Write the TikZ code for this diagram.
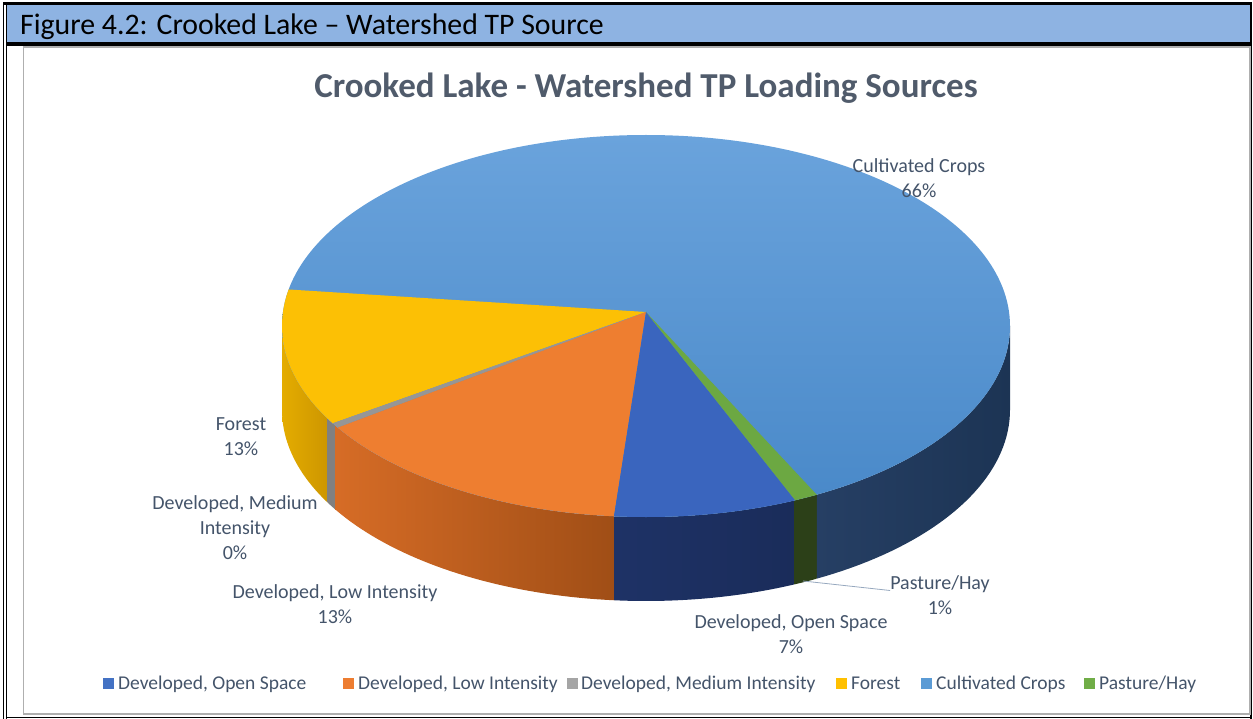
\documentclass[tikz,border=0pt]{standalone}
\usepackage{fontspec}
\setmainfont{Carlito}
\definecolor{hdrblue}{RGB}{142,179,226}
\definecolor{labcol}{RGB}{68,84,106}
\definecolor{titlecol}{RGB}{80,91,107}
\definecolor{framegray}{RGB}{175,175,175}
\definecolor{cOpen}{RGB}{68,114,196}
\definecolor{cLow}{RGB}{237,125,49}
\definecolor{cMed}{RGB}{165,165,165}
\definecolor{cFor}{RGB}{255,192,0}
\definecolor{cCult}{RGB}{91,155,213}
\definecolor{cPas}{RGB}{112,173,71}
\definecolor{tOpen}{RGB}{58,101,190}
\definecolor{tLow}{RGB}{238,126,48}
\definecolor{tFor}{RGB}{252,192,5}
\definecolor{tMed}{RGB}{150,150,150}
\definecolor{tPas}{RGB}{108,168,66}
\definecolor{tCultA}{RGB}{106,163,220}
\definecolor{tCultB}{RGB}{72,136,200}
\definecolor{sCultA}{RGB}{38,63,100}
\definecolor{sCultB}{RGB}{28,52,84}
\definecolor{sOpenA}{RGB}{30,50,102}
\definecolor{sOpenB}{RGB}{26,44,90}
\definecolor{sLowA}{RGB}{214,108,38}
\definecolor{sLowB}{RGB}{160,78,22}
\definecolor{sForA}{RGB}{228,172,0}
\definecolor{sForB}{RGB}{205,150,0}
\definecolor{sMed}{RGB}{128,128,128}
\definecolor{sPas}{RGB}{44,64,24}
\definecolor{leadcol}{RGB}{150,168,190}
\newcommand\pieside[4]{%
  \shade[left color=#3,right color=#4] plot[domain=#1:#2,samples=40] ({646+364*cos(\x)},{326-191*sin(\x)}) -- plot[domain=#2:#1,samples=40] ({646+364*cos(\x)},{410-191*sin(\x)}) -- cycle;}
\begin{document}
\begin{tikzpicture}[x=1pt,y=-1pt,
  lab/.style={font=\fontsize{20}{25}\selectfont, text=labcol, align=center, inner sep=0pt},
  leg/.style={font=\fontsize{19.5}{23}\selectfont, text=labcol, anchor=base west, inner sep=0pt},
  sq/.style={minimum size=11pt, inner sep=0pt, draw=none},
  leader/.style={draw=leadcol, line width=0.8pt}]
\useasboundingbox (0,0) rectangle (1253,719);
% frame
\fill[hdrblue] (7,5) rectangle (1250,42);
\fill[black] (2.5,2.5) rectangle (1252,5);
\fill[black] (6,42) rectangle (1252,46);
\draw[line width=1.6pt] (3.4,2.5) -- (3.4,719);
\draw[line width=1.3pt] (6.6,2.5) -- (6.6,718.5);
\draw[line width=1.6pt] (1251.2,2.5) -- (1251.2,718.5);
\draw[line width=1.6pt] (5.8,717.6) -- (1252,717.6);
\draw[framegray, line width=1.5pt] (23.5,47) rectangle (1250,714);
\node[anchor=base west, inner sep=0pt, font=\fontsize{29.8}{34}\selectfont] (hdr) at (20,35) {Figure 4.2: Crooked Lake – Watershed TP Source};
% title
\node[inner sep=0pt, font=\fontsize{35}{40}\selectfont\bfseries, text=titlecol] (title) at (646,88) {Crooked Lake - Watershed TP Loading Sources};
% pie sides
\pieside{180}{209}{sForA}{sForB}
\pieside{209}{211.5}{sMed}{sMed}
\pieside{211.5}{265}{sLowA}{sLowB}
\pieside{265}{294}{sOpenA}{sOpenB}
\pieside{294}{298}{sPas}{sPas}
\pieside{298}{360}{sCultA}{sCultB}
% pie top
\coordinate (apex) at (646,312);
\shade[top color=tCultA, bottom color=tCultB] (646,326) ellipse [x radius=364pt, y radius=191pt];
\begin{scope}
  \clip (646,326) ellipse [x radius=364pt, y radius=191pt];
  \fill[tFor] (apex) -- (-401,246) -- (-308,651) -- cycle;
  \fill[tMed] (apex) -- (-308,651) -- (-290,663) -- cycle;
  \fill[tLow] (apex) -- (-290,663) -- (550,924) -- cycle;
  \fill[tOpen] (apex) -- (550,924) -- (1093,876) -- cycle;
  \fill[tPas] (apex) -- (1093,876) -- (1159,861) -- cycle;
\end{scope}
% labels
\node[lab] (cult) at (919,178.5) {Cultivated Crops\\66\%};
\node[lab] (for) at (241,437) {Forest\\13\%};
\node[lab] (med) at (235,528) {Developed, Medium\\Intensity\\0\%};
\node[lab] (low) at (335,604) {Developed, Low Intensity\\13\%};
\node[lab] (open) at (791,634.5) {Developed, Open Space\\7\%};
\node[lab] (pas) at (940,595.5) {Pasture/Hay\\1\%};
\coordinate (pasfoot) at (803,581);
\draw[leader] (pasfoot) -- ([yshift=5pt]pas.west);
% legend
\node[sq, fill=cOpen] (s1) at (108.5,683.5) {};
\node[leg] (l1) at (118,689) {Developed, Open Space};
\node[sq, fill=cLow] (s2) at (348.5,683.5) {};
\node[leg] (l2) at (358,689) {Developed, Low Intensity};
\node[sq, fill=cMed] (s3) at (572,683.5) {};
\node[leg] (l3) at (581,689) {Developed, Medium Intensity};
\node[sq, fill=cFor] (s4) at (841.5,683.5) {};
\node[leg] (l4) at (851,689) {Forest};
\node[sq, fill=cCult] (s5) at (926.5,683.5) {};
\node[leg] (l5) at (936,689) {Cultivated Crops};
\node[sq, fill=cPas] (s6) at (1089.5,683.5) {};
\node[leg] (l6) at (1099,689) {Pasture/Hay};
\end{tikzpicture}
\end{document}
